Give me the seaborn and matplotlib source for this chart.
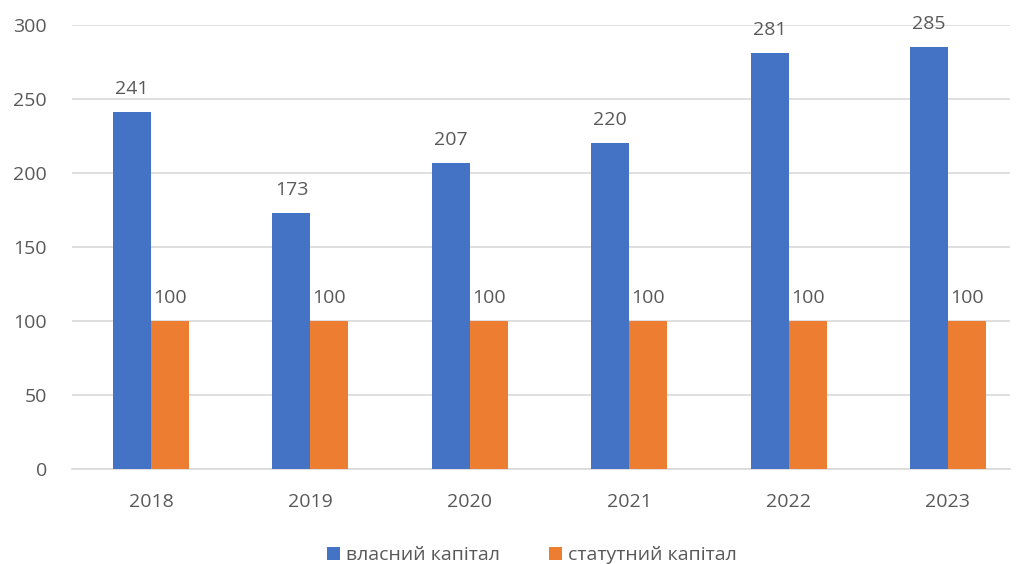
import numpy as np
import matplotlib
matplotlib.use("Agg")
import matplotlib.pyplot as plt
import pandas as pd
import seaborn as sns

# дані з діаграми
years = ["2018", "2019", "2020", "2021", "2022", "2023"]
own_capital = [241, 173, 207, 220, 281, 285]
statutory_capital = [100, 100, 100, 100, 100, 100]
series_names = ["власний капітал", "статутний капітал"]
colors = ["#4472C4", "#ED7D31"]

df = pd.DataFrame({
    "year": years * 2,
    "value": own_capital + statutory_capital,
    "series": [series_names[0]] * len(years) + [series_names[1]] * len(years),
})

sns.set_theme(style="white")
plt.rcParams["font.family"] = ["Open Sans", "DejaVu Sans"]
text_color = "#595959"

fig = plt.figure(figsize=(10.19, 5.64), dpi=100)
ax = fig.add_axes([0.0707, 0.168, 0.9205, 0.788])

sns.barplot(data=df, x="year", y="value", hue="series", palette=colors,
            width=0.477, saturation=1, linewidth=0, ax=ax, zorder=3)

# підписи значень
for cont in ax.containers:
    ax.bar_label(cont, fmt="%d", padding=10, fontsize=14, color=text_color)

ax.set_ylim(0, 300)
ax.set_yticks(np.arange(0, 301, 50))
ax.set_xlim(-0.496, 5.39)
ax.yaxis.grid(True, color="#D9D9D9", linewidth=1.2, zorder=0)
ax.xaxis.grid(False)
for s in ["top", "right", "left"]:
    ax.spines[s].set_visible(False)
ax.spines["bottom"].set_color("#D9D9D9")
ax.spines["bottom"].set_linewidth(1.2)
ax.set_xlabel("")
ax.set_ylabel("")
ax.tick_params(axis="both", length=0, labelsize=14, labelcolor=text_color)
ax.tick_params(axis="y", pad=18)
ax.tick_params(axis="x", pad=17)

ax.legend(loc="upper center", bbox_to_anchor=(0.49, -0.134), ncol=2, frameon=False,
          fontsize=14, labelcolor=text_color, handlelength=0.7, handleheight=0.7,
          handletextpad=0.3, columnspacing=2.5)

fig.savefig("out.png", dpi=100)
